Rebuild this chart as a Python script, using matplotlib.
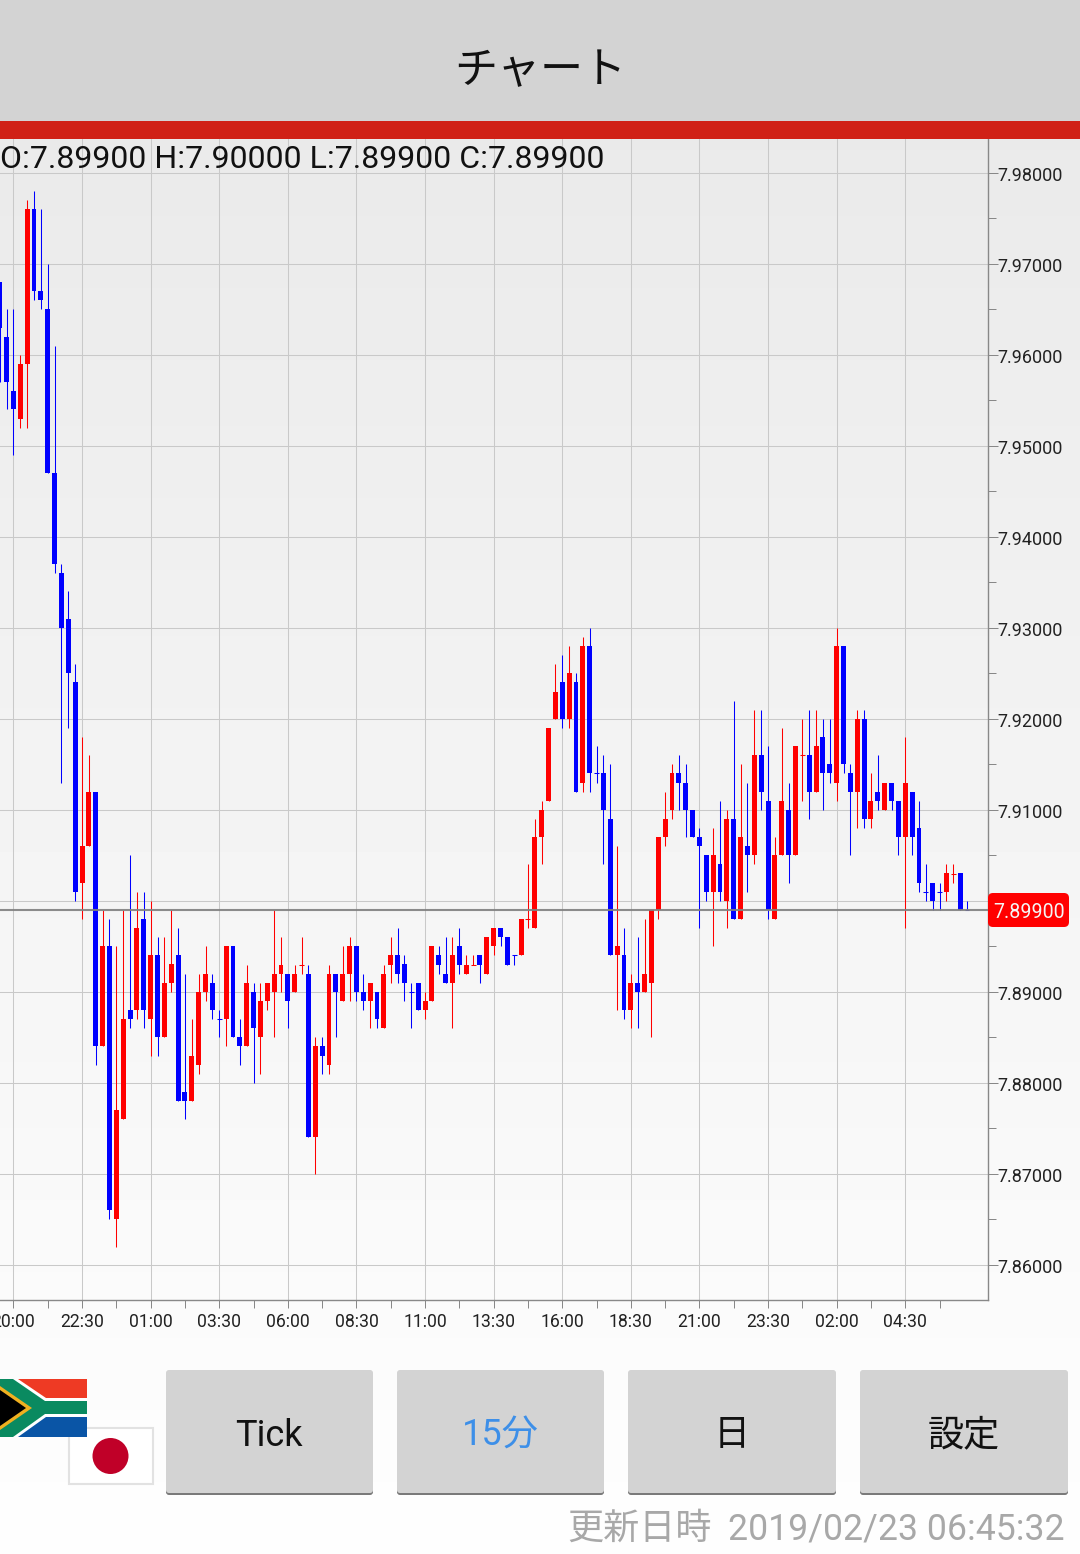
import numpy as np
import matplotlib
matplotlib.use("Agg")
import matplotlib.pyplot as plt
from matplotlib.patches import FancyBboxPatch, Polygon, Rectangle, Circle
from matplotlib.transforms import ScaledTranslation

LATIN = ['Roboto', 'Noto Sans CJK JP', 'DejaVu Sans']
CJK = ['Noto Sans CJK JP', 'Roboto', 'DejaVu Sans']
plt.rcParams['font.family'] = LATIN

# ---- data: prices as thousandths above 7.800, candle index starts at -2 ----
first_index = -2
colors = ("bbbrrbbbbb" "bbrrbrbrrb" "rbrbrrbbrr" "rbbrbbrbrr" "rrbrrbrbrb" "rrbbrbrrbb" "bbrrbbrbrr"
          "brrbbbrrrr" "rrbrbrbbbb" "rbrbrrrrrb" "bbbbrbrbrb" "rbbrrbrrbr" "bbrbbrbrbr" "bbrbbbbbrrbb")
body_top = [168,162,156,159,176,176,167,165,147,136,
            131,124,106,112,112,95,95,77,87,88,
            97,98,94,94,91,93,94,79,83,90,
            92,91,87,95,95,85,91,90,89,91,
            92,93,92,92,93,92,84,84,92,92,
            92,95,95,90,91,90,92,94,94,93,
            90,91,89,95,94,92,94,95,93,93,
            94,96,97,97,96,94,98,98,107,110,
            119,123,124,125,124,128,128,114,114,109,
            95,94,91,91,92,99,107,109,114,114,
            113,110,107,105,105,104,109,109,107,106,
            116,116,111,105,111,110,117,116,116,117,
            118,115,128,128,114,120,120,111,112,113,
            113,111,113,112,108,101,102,101,103,103,103,99]
body_bottom = [163,157,154,153,159,167,166,147,137,130,
               125,101,102,106,84,84,66,65,76,87,
               88,88,87,85,85,91,78,78,78,82,
               90,88,87,87,85,84,84,86,85,89,
               90,92,89,90,93,74,74,83,82,90,
               89,92,90,89,89,87,86,93,92,91,
               90,88,88,89,93,91,91,93,92,93,
               93,92,95,96,93,94,94,98,97,107,
               111,120,120,120,112,113,114,114,110,94,
               94,88,88,90,90,91,99,107,110,113,
               110,107,106,101,101,101,100,98,98,105,
               105,112,99,98,105,105,105,116,112,112,
               114,114,113,115,112,112,109,109,111,110,
               111,107,107,107,102,101,100,101,101,103,99,99]
wick_top = [168,165,165,160,177,178,176,170,161,137,
            134,126,118,116,112,99,98,95,99,105,
            101,101,100,96,96,99,97,92,87,92,
            95,92,88,95,95,87,93,91,91,91,
            99,96,92,93,96,93,85,85,93,92,
            95,96,95,92,91,90,93,96,97,94,
            91,91,90,95,95,96,96,97,94,94,
            94,96,97,97,96,94,98,104,109,111,
            119,126,127,128,125,129,130,117,116,115,
            106,97,92,96,98,99,107,112,115,116,
            115,110,108,105,108,111,110,122,115,113,
            121,121,117,107,119,113,117,120,121,121,
            120,120,130,128,115,121,121,114,116,113,
            113,111,118,112,111,104,102,102,104,104,103,100]
wick_bottom = [157,154,149,152,152,166,165,147,136,113,
               119,100,98,106,82,84,65,62,76,86,
               87,86,83,83,85,90,78,76,78,81,
               89,87,85,84,85,82,84,80,81,88,
               85,90,86,90,92,74,70,81,81,85,
               89,89,89,88,86,86,86,91,91,89,
               86,88,87,89,92,91,86,92,92,93,
               91,92,94,95,93,93,94,97,97,104,
               111,120,119,119,112,112,112,113,104,94,
               88,87,86,86,90,85,98,106,109,110,
               107,107,97,100,95,100,97,98,98,101,
               104,110,98,98,105,102,105,111,109,112,
               110,113,111,114,105,108,108,108,110,110,
               110,105,97,105,101,100,99,99,100,102,99,99]
price_ticks = [7.86, 7.87, 7.88, 7.89, 7.90, 7.91, 7.92, 7.93, 7.94, 7.95, 7.96, 7.97, 7.98]
time_labels = ["20:00", "22:30", "01:00", "03:30", "06:00", "08:30", "11:00",
               "13:30", "16:00", "18:30", "21:00", "23:30", "02:00", "04:30"]
last_price = 7.899
ohlc_text = "O:7.89900 H:7.90000 L:7.89900 C:7.89900"
title_text = "チャート"
buttons = ["Tick", "15分", "日", "設定"]
updated_label = "更新日時"
updated_value = "2019/02/23 06:45:32"

W, H = 1080, 1554
fig = plt.figure(figsize=(W / 100, H / 100), dpi=100)

# ---- background ----
bg = fig.add_axes([0, 0, 1, 1], zorder=0)
bg.set_xlim(0, W); bg.set_ylim(H, 0); bg.axis('off')
grad = np.linspace(0xEA, 0xFE, 256)[:, None] / 255
bg.imshow(grad, cmap='gray', vmin=0, vmax=1, extent=(0, W, H, 139), aspect='auto', zorder=0)
bg.set_xlim(0, W); bg.set_ylim(H, 0)

# ---- chart ----
PX_PER_CANDLE = 6.86
X0 = 13.45
PX_PER_PRICE = 9100
Y798 = 172.8
ax = fig.add_axes([0, 1 - 1300 / H, 988 / W, (1300 - 139) / H], zorder=1)
ax.patch.set_alpha(0)
ax.set_xlim(-X0 / PX_PER_CANDLE, (988 - X0) / PX_PER_CANDLE)
ax.set_ylim(7.98 - (1300 - Y798) / PX_PER_PRICE, 7.98 + (Y798 - 139) / PX_PER_PRICE)

to_price = lambda a: 7.8 + np.asarray(a, dtype=float) / 1000
idx = np.arange(first_index, first_index + len(colors))
top, bottom = to_price(body_top), to_price(body_bottom)
whi, wlo = to_price(wick_top), to_price(wick_bottom)
col = np.array(['#ff0000' if c == 'r' else '#0000ff' for c in colors])

ax.vlines(idx, wlo, whi, colors=col, linewidth=0.75, zorder=3)
ax.bar(idx, top - bottom, bottom=bottom, width=0.72, color=col, linewidth=0, zorder=4)
flat = top == bottom
ax.hlines(top[flat], idx[flat] - 0.36, idx[flat] + 0.36, colors=col[flat], linewidth=0.75, zorder=4)
ax.axhline(last_price, color='#808080', linewidth=1.5, alpha=0.9, zorder=5)

ax.set_yticks(price_ticks)
# the 7.90000 label sits hidden behind the last-price box in the reference
ax.set_yticklabels(["" if abs(p - 7.90) < 1e-9 else f"{p:.5f}" for p in price_ticks])
ax.set_yticks(np.array(price_ticks[:-1]) + 0.005, minor=True)
major_x = np.arange(len(time_labels)) * 10
ax.set_xticks(major_x)
ax.set_xticklabels(time_labels)
ax.set_xticks(major_x + 5, minor=True)
ax.yaxis.tick_right()
ax.grid(True, which='major', color='#c9c9c9', linewidth=0.75)
ax.set_axisbelow(True)
ax.tick_params(axis='y', which='major', length=7, width=0.72, color='#888888', pad=0,
               labelsize=13.0, labelcolor='#222222')
ax.tick_params(axis='y', which='minor', length=5.5, width=0.72, color='#888888')
ax.tick_params(axis='x', which='major', length=6, width=0.72, color='#888888', pad=3.4,
               labelsize=12.7, labelcolor='#222222')
ax.tick_params(axis='x', which='minor', length=6, width=0.72, color='#888888')
for s in ('top', 'left'):
    ax.spines[s].set_visible(False)
for s in ('right', 'bottom'):
    ax.spines[s].set_color('#888888')
    ax.spines[s].set_linewidth(1.0)
shift = ScaledTranslation(0, -1 / 100, fig.dpi_scale_trans)
for lab in ax.get_yticklabels():
    lab.set_transform(lab.get_transform() + shift)

# ---- chrome ----
ui = fig.add_axes([0, 0, 1, 1], zorder=2)
ui.set_xlim(0, W); ui.set_ylim(H, 0); ui.axis('off'); ui.patch.set_alpha(0)
ui.add_patch(Rectangle((0, 0), W, 121, color='#d3d3d3', lw=0))
ui.add_patch(Rectangle((0, 121), W, 18, color='#d02116', lw=0))
ui.text(540, 71, title_text, family=CJK, fontsize=31, color='#111111', ha='center', va='center')
ui.text(0.3, 160, ohlc_text, fontsize=23.07, color='#111111', ha='left', va='center')

# last price label
label_y = 910
ui.add_patch(FancyBboxPatch((991.5, label_y - 13.5), 74, 27, boxstyle='round,pad=3.5,rounding_size=5',
                            fc='#ff0000', ec='none', lw=0))
ui.text(1029, label_y + 2, f"{last_price:.5f}", fontsize=14.1, color='#f5f5f5', ha='center', va='center')

# flags
ui.add_patch(Rectangle((68.5, 1428), 84.5, 56, fc='#ffffff', ec='#e2e2e2', lw=1.5))
ui.add_patch(Circle((110.5, 1456), 18, fc='#c00028', ec='none'))
flag = [(0, 1379), (87, 1379), (87, 1437), (0, 1437)]
ui.add_patch(Polygon(flag, fc='#ffffff', ec='none'))
ui.add_patch(Polygon([(18, 1379), (87, 1379), (87, 1398), (46, 1398)], fc='#ee3a24', ec='none'))
ui.add_patch(Polygon([(18, 1437), (87, 1437), (87, 1417), (46, 1417)], fc='#0a55a6', ec='none'))
ui.add_patch(Polygon([(0, 1379), (13, 1379), (45, 1401), (87, 1401), (87, 1414), (45, 1414), (13, 1437), (0, 1437)],
                     fc='#0a8a60', ec='none'))
ui.add_patch(Polygon([(0, 1386), (32, 1408), (0, 1430)], fc='#f0b020', ec='none'))
ui.add_patch(Polygon([(0, 1390), (26, 1408), (0, 1426)], fc='#000000', ec='none'))

# buttons
btn_x = [(166, 373), (397, 604), (628, 836), (860, 1068)]
btn_col = ['#111111', '#3d8fe8', '#111111', '#111111']
for (x0, x1), label, c in zip(btn_x, buttons, btn_col):
    ui.add_patch(FancyBboxPatch((x0, 1373), x1 - x0, 122, boxstyle='round,pad=0,rounding_size=3',
                                fc='#7a7a7a', ec='none'))
    ui.add_patch(FancyBboxPatch((x0, 1370), x1 - x0, 123, boxstyle='round,pad=0,rounding_size=3',
                                fc='#d3d3d3', ec='none'))
    ui.text((x0 + x1) / 2 - 0.5, 1435.5, label, family=['Roboto', 'Noto Sans CJK JP'],
            fontsize=26, color=c, ha='center', va='center')

ui.text(712, 1529, updated_label, family=CJK, fontsize=26, color='#a8a8a8', ha='right', va='center')
ui.text(1065, 1529, updated_value, fontsize=25.7, color='#a8a8a8', ha='right', va='center')

fig.savefig('out.png', dpi=100)
